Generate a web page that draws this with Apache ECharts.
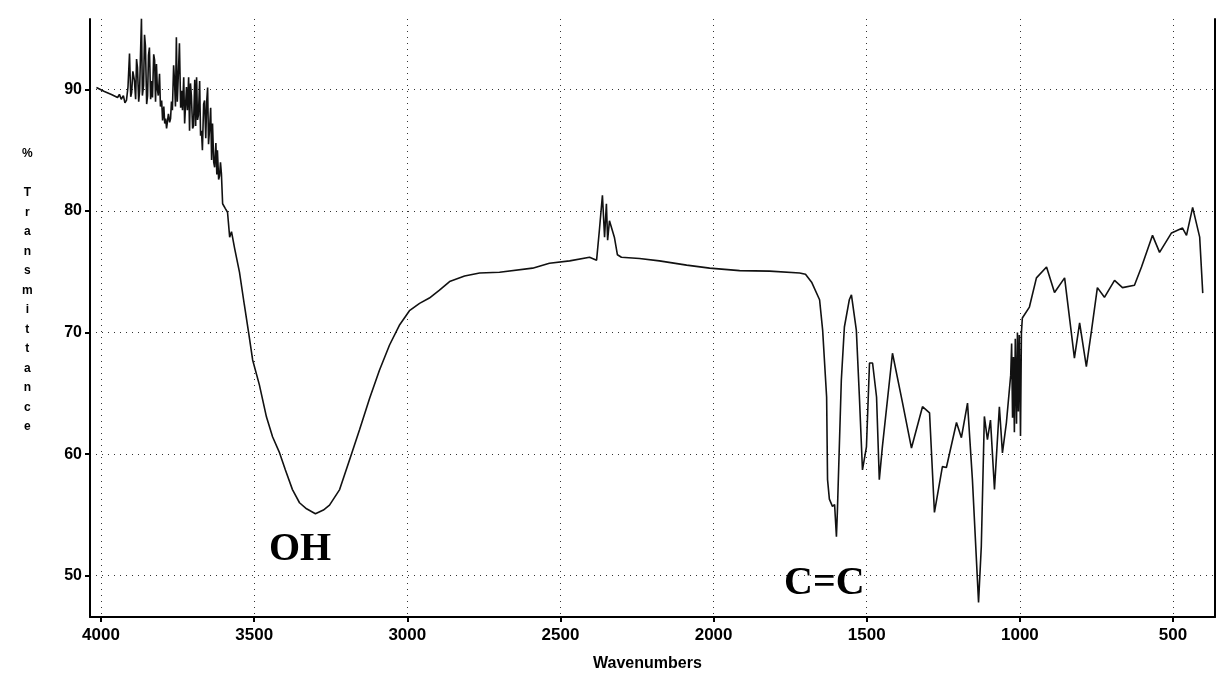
<!DOCTYPE html>
<html>
<head>
<meta charset="utf-8">
<title>IR spectrum</title>
<script src="https://cdn.jsdelivr.net/npm/echarts@6/dist/echarts.min.js"></script>
<style>
  html, body { margin: 0; padding: 0; background: #fff; }
  #chart { width: 1220px; height: 676px; }
</style>
</head>
<body>
<div id="chart"></div>
<script>
// Wavenumber (cm-1) and % transmittance samples of the spectrum
const wavenumbers = [
  4015, 3989, 3966, 3946, 3940, 3934, 3927, 3922, 3917, 3912,
  3907, 3903, 3900, 3896, 3891, 3887, 3884, 3881, 3877, 3874,
  3871, 3868, 3865, 3861, 3858, 3855, 3851, 3848, 3845, 3842,
  3838, 3835, 3832, 3828, 3825, 3822, 3819, 3816, 3813, 3809,
  3806, 3802, 3799, 3795, 3792, 3789, 3786, 3783, 3780, 3776,
  3773, 3770, 3767, 3763, 3760, 3757, 3754, 3751, 3747, 3744,
  3740, 3737, 3734, 3730, 3727, 3724, 3721, 3718, 3714, 3711,
  3708, 3705, 3701, 3698, 3694, 3691, 3688, 3685, 3682, 3678,
  3675, 3672, 3669, 3665, 3662, 3658, 3655, 3652, 3649, 3646,
  3642, 3639, 3636, 3632, 3629, 3625, 3622, 3620, 3616, 3613,
  3610, 3607, 3603, 3594, 3587, 3580, 3574, 3564,
  3548, 3532, 3518, 3505, 3483, 3460, 3440, 3417, 3398, 3375,
  3352, 3329, 3300, 3274, 3254, 3221, 3189, 3156, 3123, 3091,
  3058, 3026, 2993, 2960, 2928, 2895, 2862, 2813, 2764, 2699,
  2591, 2536, 2470, 2405, 2382, 2373, 2363, 2356, 2350, 2346,
  2340, 2324, 2314, 2301, 2242, 2177, 2088, 2013, 1915, 1817,
  1719, 1700, 1680, 1654, 1644, 1631, 1628, 1622, 1612, 1605,
  1599, 1596, 1583, 1573, 1557, 1550, 1534, 1524, 1514, 1501,
  1491, 1481, 1468, 1459, 1449, 1416, 1383, 1354, 1318, 1295,
  1279, 1253, 1240, 1207, 1191, 1171, 1155, 1135, 1126, 1116,
  1106, 1096, 1083, 1067, 1057, 1044, 1030, 1027, 1024, 1021,
  1018, 1015, 1011, 1008, 1005, 1002, 998, 995, 992,
  969, 946, 913, 887, 854, 837, 822, 805, 783,
  766, 747, 724, 691, 665, 626, 603, 567, 544, 505,
  469, 456, 436, 413, 403
];
const transmittance = [
  90.16, 89.84, 89.59, 89.34, 89.6, 89.2, 89.5, 88.9, 89.1, 90.2,
  92.96, 89.4, 89.75, 91.5, 90.74, 89.2, 92.5, 91.8, 89.0, 89.9,
  93.0, 95.83, 89.5, 90.33, 94.5, 93.6, 88.8, 89.5, 92.8, 93.45,
  89.2, 90.7, 89.34, 92.9, 92.4, 89.0, 92.1, 90.0, 89.5, 91.3,
  88.6, 89.1, 87.45, 88.6, 87.2, 87.6, 86.8, 86.9, 88.0, 87.3,
  87.6, 89.0, 88.3, 92.0, 90.7, 88.6, 94.3, 89.0, 91.6, 93.8,
  88.5, 89.9, 88.3, 91.0, 87.2, 87.3, 90.2, 88.3, 91.0, 86.6,
  90.5, 89.5, 86.8, 87.0, 90.8, 87.0, 91.0, 87.5, 87.9, 90.7,
  86.2, 86.6, 85.0, 88.8, 89.1, 86.0, 89.0, 90.16, 85.5, 86.6,
  88.5, 84.2, 87.2, 84.0, 83.6, 85.6, 83.0, 85.0, 82.6, 82.9,
  84.0, 83.1, 80.6, 80.2, 79.9, 77.85, 78.3, 76.95,
  74.97, 72.27, 69.97, 67.75, 65.7, 63.07, 61.43, 60.1, 58.7, 57.08,
  56.0, 55.5, 55.1, 55.4, 55.8, 57.08, 59.5, 62.0, 64.6, 66.9,
  68.98, 70.6, 71.8, 72.4, 72.84, 73.5, 74.2, 74.65, 74.9, 74.97,
  75.3, 75.7, 75.9, 76.2, 75.96, 78.4, 81.3, 77.85, 80.6, 77.6,
  79.2, 77.85, 76.4, 76.2, 76.1, 75.9, 75.55, 75.3, 75.1, 75.06,
  74.9, 74.8, 74.15, 72.7, 70.2, 64.7, 57.9, 56.3, 55.7, 55.85,
  53.2, 55.2, 66.1, 70.46, 72.7, 73.1, 70.2, 64.7, 58.7, 60.6,
  67.5, 67.5, 64.7, 57.9, 60.6, 68.3, 64.2, 60.5, 63.9, 63.4,
  55.2, 58.97, 58.9, 62.6, 61.35, 64.2, 57.9, 47.8, 52.4, 63.1,
  61.2, 62.8, 57.1, 63.9, 60.1, 62.6, 66.5, 69.1, 63.0, 68.0,
  61.8, 69.5, 62.5, 70.0, 63.5, 69.8, 61.5, 70.0, 71.2,
  72.1, 74.5, 75.4, 73.3, 74.5, 71.0, 67.9, 70.8, 67.2,
  70.2, 73.7, 72.9, 74.3, 73.7, 73.9, 75.4, 78.0, 76.6, 78.2,
  78.6, 78.0, 80.3, 77.85, 73.25
];

// Tick positions
const xTicks = [4000, 3500, 3000, 2500, 2000, 1500, 1000, 500];
const yTicks = [50, 60, 70, 80, 90];

// Axis extents
const xMin = 363, xMax = 4036;
const yMin = 46.6, yMax = 95.8;

// Axis and annotation text
const xTitle = 'Wavenumbers';
const yTitle = '%\n\nT\nr\na\nn\ns\nm\ni\nt\nt\na\nn\nc\ne';
const bandLabels = ['OH', 'C=C'];

const points = wavenumbers.map((w, i) => [w, transmittance[i]]);

const tickFont = {
  color: '#000',
  fontFamily: 'Liberation Sans, Arial, sans-serif',
  fontWeight: 'bold',
  fontSize: 17,
  formatter: v => String(v)
};
const gridDots = { color: '#333', width: 1, type: [1, 5] };

const chart = echarts.init(document.getElementById('chart'), null, { renderer: 'canvas' });
chart.setOption({
  backgroundColor: '#fff',
  animation: false,
  grid: { left: 90, right: 5, top: 19, bottom: 59, containLabel: false },
  xAxis: {
    type: 'value',
    inverse: true,
    min: xMin,
    max: xMax,
    axisLine: { show: true, onZero: false, lineStyle: { color: '#000', width: 2 } },
    axisTick: { show: true, inside: false, length: 5, customValues: xTicks, lineStyle: { color: '#000', width: 2 } },
    axisLabel: { customValues: xTicks, margin: 10, ...tickFont },
    splitLine: { show: true, lineStyle: gridDots }
  },
  yAxis: [{
    type: 'value',
    min: yMin,
    max: yMax,
    axisLine: { show: true, onZero: false, lineStyle: { color: '#000', width: 2 } },
    axisTick: { show: true, length: 5, customValues: yTicks, lineStyle: { color: '#000', width: 2 } },
    axisLabel: { customValues: yTicks, margin: 8, ...tickFont, fontSize: 16 },
    splitLine: { show: true, lineStyle: gridDots }
  }, {
    type: 'value',
    position: 'right',
    min: yMin,
    max: yMax,
    axisLine: { show: true, onZero: false, lineStyle: { color: '#000', width: 2 } },
    axisTick: { show: false },
    axisLabel: { show: false },
    splitLine: { show: false }
  }],
  series: [{
    type: 'line',
    data: points,
    yAxisIndex: 0,
    showSymbol: false,
    smooth: false,
    lineStyle: { color: '#111', width: 1.6 },
    z: 5
  }],
  graphic: [
    {
      type: 'text', left: 22, top: 144, z: 10,
      style: {
        text: yTitle, fill: '#000', fontFamily: 'Liberation Sans, Arial, sans-serif',
        fontWeight: 'bold', fontSize: 12, lineHeight: 19.5, textAlign: 'center'
      }
    },
    {
      type: 'text', left: 593, top: 656, z: 10,
      style: {
        text: xTitle, fill: '#000', fontFamily: 'Liberation Sans, Arial, sans-serif',
        fontWeight: 'bold', fontSize: 16
      }
    },
    {
      type: 'text', left: 269, top: 530, z: 10,
      style: {
        text: bandLabels[0], fill: '#000', fontFamily: 'Liberation Serif, Times New Roman, serif',
        fontWeight: 'bold', fontSize: 40
      }
    },
    {
      type: 'text', left: 784, top: 564, z: 10,
      style: {
        text: bandLabels[1], fill: '#000', fontFamily: 'Liberation Serif, Times New Roman, serif',
        fontWeight: 'bold', fontSize: 40
      }
    }
  ]
});
</script>
</body>
</html>
